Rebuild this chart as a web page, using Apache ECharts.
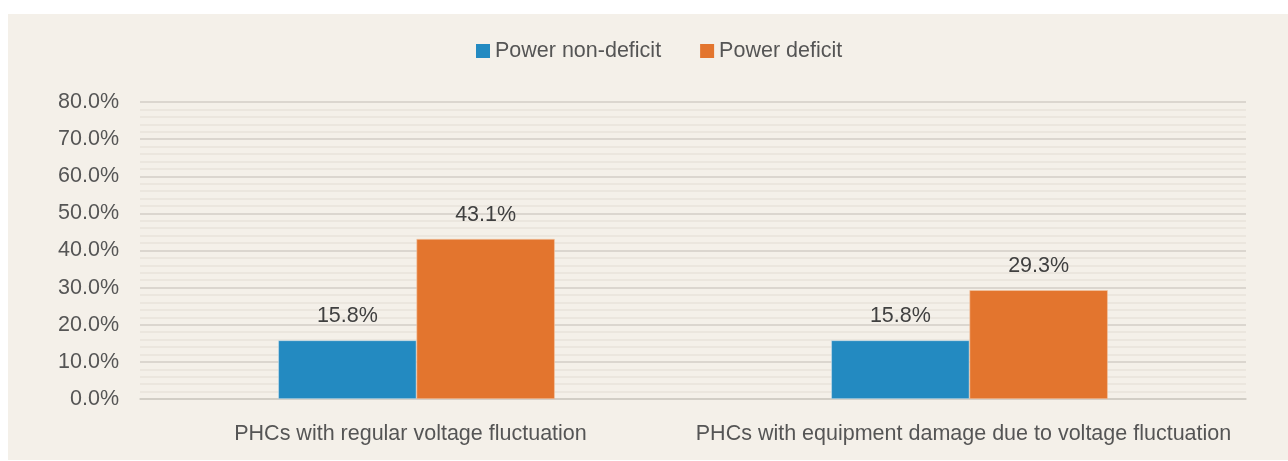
<!DOCTYPE html>
<html><head><meta charset="utf-8">
<script src="https://cdn.jsdelivr.net/npm/echarts@6/dist/echarts.min.js"></script>
<style>
html,body{margin:0;padding:0;background:#ffffff;}
#c{position:absolute;left:8px;top:14px;width:1280px;height:446px;background:#f4f0e9;}
</style></head>
<body><div id="c"></div>
<script>
const categories = ["PHCs with regular voltage fluctuation", "PHCs with equipment damage due to voltage fluctuation"];
const seriesNames = ["Power non-deficit", "Power deficit"];
const nonDeficit = [15.8, 15.8];
const deficit = [43.1, 29.3];
const colors = ["#238ac1", "#e3752e"];

const chart = echarts.init(document.getElementById('c'));
const font = 'Liberation Sans, Arial, Helvetica, sans-serif';
const fs = 21.5;
chart.setOption({
  backgroundColor: '#f4f0e9',
  animation: false,
  textStyle: {fontFamily: font},
  legend: {
    left: 468, top: 26, padding: 0,
    itemWidth: 14, itemHeight: 14, itemGap: 39,
    icon: 'rect',
    itemStyle: {borderWidth: 0},
    textStyle: {fontSize: fs, color: '#555555', fontFamily: font},
    data: seriesNames
  },
  grid: {left: 132, right: 42, top: 88, bottom: 61},
  xAxis: {
    type: 'category', data: categories,
    axisLine: {lineStyle: {color: '#d0cbc3', width: 1.5}},
    axisTick: {show: false},
    axisLabel: {interval: 0, fontSize: fs, color: '#555555', margin: 24, padding: [0, 12, 0, 0], fontFamily: font}
  },
  yAxis: {
    type: 'value', min: 0, max: 80, interval: 10,
    axisLabel: {formatter: v => v.toFixed(1) + '%', fontSize: fs, color: '#555555', margin: 21, fontFamily: font},
    splitLine: {lineStyle: {color: '#d3cec6', width: 1.5}},
    minorTick: {show: false, splitNumber: 5},
    minorSplitLine: {show: true, lineStyle: {color: '#e7e2da', width: 1.5}},
    axisLine: {show: false}, axisTick: {show: false}
  },
  series: [
    {name: seriesNames[0], type: 'bar', data: nonDeficit, barWidth: '25%', barGap: '0%',
     itemStyle: {color: colors[0], borderColor: '#cfe0ea', borderWidth: 0.6},
     label: {show: true, position: 'top', distance: 13, formatter: p => p.value.toFixed(1) + '%', fontSize: fs, color: '#404040', fontFamily: font}},
    {name: seriesNames[1], type: 'bar', data: deficit, barWidth: '25%', barGap: '0%',
     itemStyle: {color: colors[1], borderColor: '#f1c7a8', borderWidth: 0.6},
     label: {show: true, position: 'top', distance: 13, formatter: p => p.value.toFixed(1) + '%', fontSize: fs, color: '#404040', fontFamily: font}}
  ]
});
</script></body></html>
